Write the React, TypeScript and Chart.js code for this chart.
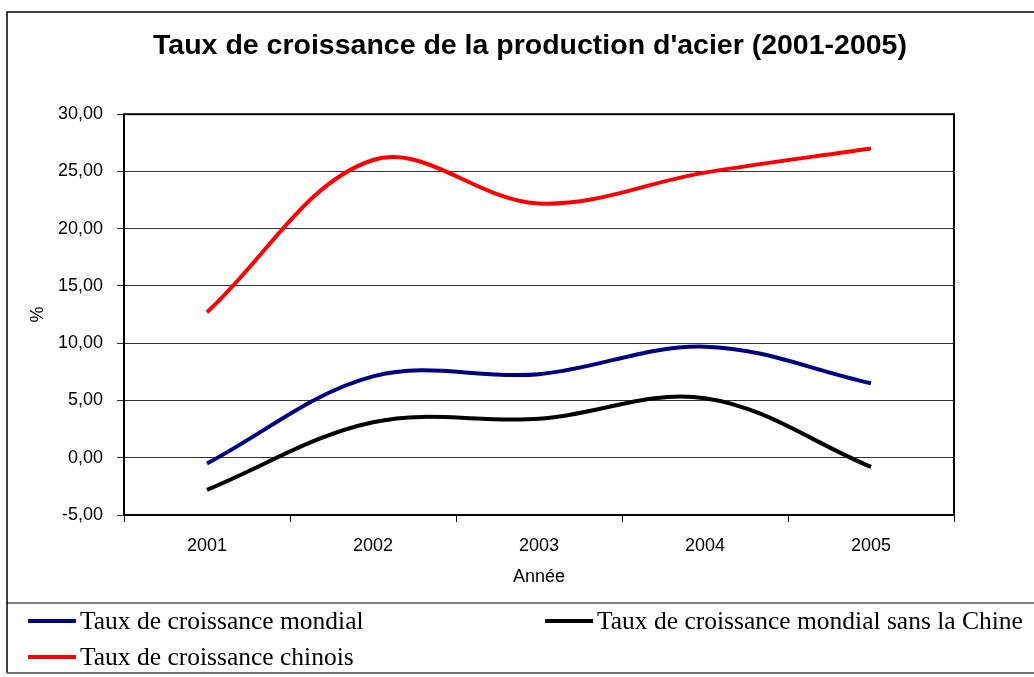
import React, { useEffect, useRef } from "react";
import { Chart, registerables } from "chart.js";

Chart.register(...registerables);

const TITLE = "Taux de croissance de la production d'acier (2001-2005)";
const YEARS = ["2001", "2002", "2003", "2004", "2005"];
const MONDIAL = [-0.5, 7.1, 7.3, 9.7, 6.5];
const SANS_CHINE = [-2.8, 3.1, 3.4, 5.2, -0.8];
const CHINOIS = [12.7, 26.0, 22.2, 24.9, 27.0];
const SERIES_LABELS = [
  "Taux de croissance mondial",
  "Taux de croissance mondial sans la Chine",
  "Taux de croissance chinois",
];
const SERIES_COLORS = ["#000080", "#000000", "#ff0000"];
const Y_MIN = -5;
const Y_MAX = 30;
const Y_STEP = 5;
const X_TITLE = "Année";
const Y_TITLE = "%";

const SANS = "'Liberation Sans', Arial, sans-serif";
const SERIF = "'Liberation Serif', 'Times New Roman', serif";

const framePlugin = {
  id: "frame",
  beforeDraw(chart: any) {
    const ctx = chart.ctx;
    ctx.save();
    ctx.fillStyle = "#ffffff";
    ctx.fillRect(0, 0, chart.width, chart.height);
    ctx.restore();
  },
  afterDatasetsDraw(chart: any) {
    const ctx = chart.ctx;
    const a = chart.chartArea;
    ctx.save();
    // plot area border
    ctx.strokeStyle = "#000";
    ctx.lineWidth = 2;
    ctx.strokeRect(a.left, a.top, a.right - a.left, a.bottom - a.top);
    // outer frame
    ctx.lineWidth = 1.5;
    ctx.beginPath();
    ctx.moveTo(7, 673);
    ctx.lineTo(7, 12);
    ctx.lineTo(chart.width, 12);
    ctx.stroke();
    ctx.lineWidth = 1.2;
    ctx.beginPath();
    ctx.moveTo(7, 603);
    ctx.lineTo(chart.width, 603);
    ctx.stroke();
    ctx.strokeStyle = "#707070";
    ctx.lineWidth = 2;
    ctx.beginPath();
    ctx.moveTo(7, 673);
    ctx.lineTo(chart.width, 673);
    ctx.stroke();
    // legend
    const slots = [
      { x: 28, y: 621 },
      { x: 545, y: 621 },
      { x: 28, y: 657 },
    ];
    chart.data.datasets.forEach((ds: any, i: number) => {
      const s = slots[i];
      ctx.strokeStyle = ds.borderColor;
      ctx.lineWidth = 4;
      ctx.lineCap = "butt";
      ctx.beginPath();
      ctx.moveTo(s.x, s.y);
      ctx.lineTo(s.x + 48, s.y);
      ctx.stroke();
      ctx.fillStyle = "#000";
      ctx.font = `25.5px ${SERIF}`;
      ctx.textBaseline = "middle";
      ctx.textAlign = "left";
      ctx.fillText(ds.label, s.x + 52, s.y + 1);
    });
    ctx.restore();
  },
};

export default function App() {
  const ref = useRef<HTMLCanvasElement>(null);

  useEffect(() => {
    if (!ref.current) return;
    const chart = new Chart(ref.current, {
      type: "line",
      data: {
        labels: YEARS,
        datasets: [
          { label: SERIES_LABELS[0], data: MONDIAL, borderColor: SERIES_COLORS[0] },
          { label: SERIES_LABELS[1], data: SANS_CHINE, borderColor: SERIES_COLORS[1] },
          { label: SERIES_LABELS[2], data: CHINOIS, borderColor: SERIES_COLORS[2] },
        ].map((d) => ({
          ...d,
          backgroundColor: d.borderColor,
          borderWidth: 4,
          pointRadius: 0,
          pointHoverRadius: 0,
          tension: 0.36,
          fill: false,
          yAxisID: "y",
        })),
      },
      options: {
        responsive: false,
        animation: false,
        events: [],
        layout: { padding: { left: 26, right: 0, top: 0, bottom: 74 } },
        plugins: {
          legend: { display: false },
          tooltip: { enabled: false },
          title: {
            display: true,
            text: TITLE,
            color: "#000",
            font: { family: SANS, size: 28.5, weight: "bold" },
            padding: { top: 29, bottom: 51 },
          },
        },
        scales: {
          x: {
            type: "category",
            offset: true,
            grid: {
              offset: true,
              drawOnChartArea: false,
              drawTicks: true,
              tickLength: 7,
              color: "#000",
              lineWidth: 1,
            },
            border: { display: false },
            ticks: { color: "#000", font: { family: SANS, size: 18 }, padding: 13, maxRotation: 0 },
            title: {
              display: true,
              text: X_TITLE,
              color: "#000",
              font: { family: SANS, size: 18 },
              padding: { top: 0, bottom: 15 },
            },
            afterFit: (s: any) => {
              s.height = 88;
            },
          },
          y: {
            type: "linear",
            position: "left",
            min: Y_MIN,
            max: Y_MAX,
            ticks: {
              stepSize: Y_STEP,
              color: "#000",
              font: { family: SANS, size: 18 },
              padding: 14,
              callback: (v: any) => Number(v).toFixed(2).replace(".", ","),
            },
            grid: { color: "#333", lineWidth: 1, tickLength: 7, drawTicks: true },
            border: { display: false },
            title: {
              display: true,
              text: Y_TITLE,
              color: "#000",
              font: { family: SANS, size: 18 },
              padding: { top: 1, bottom: 0 },
            },
            afterFit: (s: any) => {
              s.width = 98;
            },
          },
          y2: {
            type: "linear",
            position: "right",
            min: Y_MIN,
            max: Y_MAX,
            display: true,
            ticks: { display: false },
            grid: { display: false, drawTicks: false },
            border: { display: false },
            afterFit: (s: any) => {
              s.width = 80;
            },
          },
        },
      },
      plugins: [framePlugin],
    });
    return () => chart.destroy();
  }, []);

  return (
    <canvas
      ref={ref}
      width={1034}
      height={677}
      style={{ position: "absolute", left: 0, top: 0, width: 1034, height: 677 }}
    />
  );
}
